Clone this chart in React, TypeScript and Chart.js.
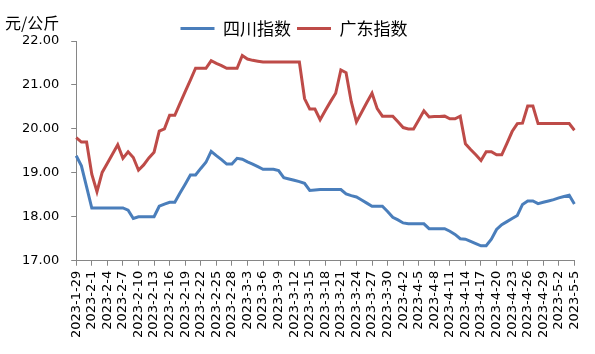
import React, { useEffect, useRef } from 'react';
import { Chart, registerables } from 'chart.js';

Chart.register(...registerables);

// ---- data ----
const startDate = { year: 2023, month: 1, day: 29 };
const dayCount = 97;

const categories: string[] = (() => {
  const out: string[] = [];
  const base = new Date(startDate.year, startDate.month - 1, startDate.day);
  for (let i = 0; i < dayCount; i++) {
    const d = new Date(base.getFullYear(), base.getMonth(), base.getDate() + i);
    out.push(`${d.getFullYear()}-${d.getMonth() + 1}-${d.getDate()}`);
  }
  return out;
})();

const sichuanLabel = '四川指数';
const guangdongLabel = '广东指数';
const unitLabel = '元/公斤';

const sichuanValues = [
  19.39, 19.16, 18.68, 18.20, 18.20, 18.20, 18.20, 18.20, 18.20, 18.20,
  18.15, 17.96, 18.00, 18.00, 18.00, 18.00, 18.24, 18.29, 18.33, 18.33,
  18.54, 18.74, 18.95, 18.95, 19.10, 19.24, 19.49, 19.39, 19.30, 19.20,
  19.20, 19.33, 19.31, 19.25, 19.20, 19.14, 19.08, 19.08, 19.08, 19.05,
  18.89, 18.86, 18.83, 18.80, 18.76, 18.60, 18.61, 18.62, 18.62, 18.62,
  18.62, 18.62, 18.52, 18.48, 18.45, 18.38, 18.31, 18.24, 18.24, 18.24,
  18.12, 17.99, 17.93, 17.86, 17.84, 17.84, 17.84, 17.84, 17.73, 17.73,
  17.73, 17.73, 17.67, 17.60, 17.50, 17.49, 17.44, 17.39, 17.34, 17.34,
  17.49, 17.71, 17.82, 17.89, 17.96, 18.03, 18.28, 18.36, 18.36, 18.30,
  18.33, 18.36, 18.39, 18.43, 18.46, 18.49, 18.29,
];

const guangdongValues = [
  19.80, 19.70, 19.70, 18.97, 18.57, 19.01, 19.22, 19.43, 19.64, 19.33,
  19.48, 19.35, 19.06, 19.18, 19.34, 19.47, 19.95, 20.00, 20.31, 20.31,
  20.58, 20.85, 21.11, 21.38, 21.38, 21.38, 21.55, 21.49, 21.44, 21.38,
  21.38, 21.38, 21.67, 21.59, 21.56, 21.54, 21.52, 21.52, 21.52, 21.52,
  21.52, 21.52, 21.52, 21.52, 20.69, 20.45, 20.45, 20.21, 20.42, 20.62,
  20.81, 21.34, 21.28, 20.62, 20.16, 20.38, 20.60, 20.81, 20.46, 20.29,
  20.29, 20.29, 20.16, 20.03, 20.00, 20.00, 20.20, 20.41, 20.27, 20.28,
  20.28, 20.29, 20.23, 20.23, 20.29, 19.66, 19.53, 19.41, 19.28, 19.48,
  19.48, 19.41, 19.41, 19.67, 19.94, 20.12, 20.13, 20.52, 20.52, 20.12,
  20.12, 20.12, 20.12, 20.12, 20.12, 20.12, 19.97,
];

const yMin = 17;
const yMax = 22;
const yStep = 1;
const labelEvery = 3;

const BLUE = '#4A7EBB';
const RED = '#BE4B48';
const AXIS = '#868686';

const unitPlugin = {
  id: 'unitLabel',
  afterDraw(chart: any) {
    const ctx = chart.ctx;
    ctx.save();
    ctx.font = '16px "Noto Sans CJK SC"';
    ctx.fillStyle = '#000';
    ctx.textAlign = 'left';
    ctx.textBaseline = 'middle';
    ctx.fillText(unitLabel, 5, 23);
    ctx.restore();
  },
};

export default function App() {
  const ref = useRef<HTMLCanvasElement | null>(null);
  useEffect(() => {
    document.body.style.margin = '0';
    if (!ref.current) return;
    const chart = new Chart(ref.current, {
      type: 'line',
      data: {
        labels: categories,
        datasets: [
          {
            label: sichuanLabel,
            data: sichuanValues,
            borderColor: BLUE,
            backgroundColor: BLUE,
            borderWidth: 3,
            pointRadius: 0,
            tension: 0,
          },
          {
            label: guangdongLabel,
            data: guangdongValues,
            borderColor: RED,
            backgroundColor: RED,
            borderWidth: 3,
            pointRadius: 0,
            tension: 0,
          },
        ],
      },
      options: {
        animation: false,
        responsive: false,
        maintainAspectRatio: false,
        layout: { padding: { top: 14, right: 17, left: 10, bottom: 11 } },
        plugins: {
          legend: {
            position: 'top',
            maxHeight: 27,
            labels: {
              usePointStyle: true,
              pointStyle: 'line',
              pointStyleWidth: 34,
              padding: 6,
              color: '#000',
              font: { family: '"Noto Sans CJK SC"', size: 17 },
            },
          },
          tooltip: { enabled: false },
        },
        scales: {
          x: {
            type: 'category',
            offset: false,
            grid: {
              drawOnChartArea: false,
              drawTicks: true,
              tickLength: 5,
              color: (c: any) => (c.index % labelEvery === 0 ? AXIS : 'rgba(0,0,0,0)'),
            },
            border: { color: AXIS, width: 1 },
            ticks: {
              autoSkip: false,
              maxRotation: 90,
              minRotation: 90,
              padding: 5,
              color: '#000',
              font: { family: '"DejaVu Sans"', size: 13 },
              callback: (_v: any, i: number) => (i % labelEvery === 0 ? categories[i] : ''),
            },
          },
          y: {
            min: yMin,
            max: yMax,
            grid: { drawOnChartArea: false, drawTicks: true, tickLength: 5, color: AXIS },
            border: { color: AXIS, width: 1 },
            ticks: {
              stepSize: yStep,
              padding: 12,
              color: '#000',
              font: { family: '"DejaVu Sans"', size: 13 },
              callback: (v: any) => Number(v).toFixed(2),
            },
          },
        },
      },
      plugins: [unitPlugin],
    } as any);
    return () => chart.destroy();
  }, []);
  return (
    <div style={{ width: 595, height: 354, position: 'relative' }}>
      <canvas ref={ref} width={595} height={354} style={{ width: 595, height: 354, display: 'block' }} />
    </div>
  );
}
